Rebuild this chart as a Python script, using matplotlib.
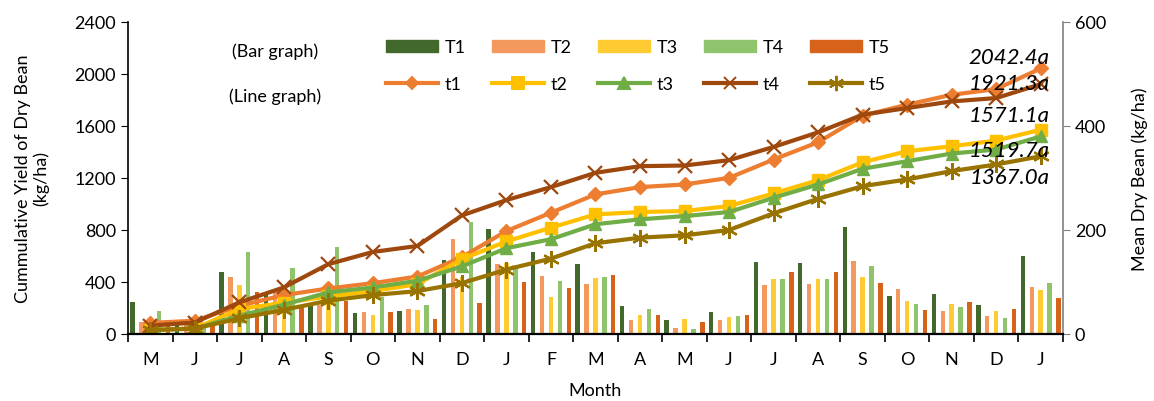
import matplotlib

matplotlib.use("Agg")
import matplotlib.pyplot as plt
from matplotlib.lines import Line2D
from matplotlib.patches import Patch
import numpy as np

plt.rcParams["font.family"] = ["Lato", "DejaVu Sans"]

# ----- Data -----------------------------------------------------------------

months = ["M", "J", "J", "A", "S", "O", "N", "D", "J", "F", "M",
          "A", "M", "J", "J", "A", "S", "O", "N", "D", "J"]

# monthly mean dry bean yield (kg/ha), right axis
T1 = [61, 21, 119, 75, 54, 40, 44, 142, 202, 157, 134, 54, 26, 43, 138, 137, 205, 74, 77, 56, 150]
T2 = [24, 20, 109, 80, 56, 43, 49, 183, 135, 111, 96, 26, 11, 26, 95, 96, 141, 87, 44, 35, 91]
T3 = [20, 18, 95, 60, 59, 37, 47, 110, 136, 72, 107, 37, 29, 32, 105, 105, 110, 64, 58, 44, 84]
T4 = [45, 15, 157, 127, 167, 72, 56, 216, 128, 101, 109, 49, 10, 35, 105, 105, 131, 58, 52, 31, 98]
T5 = [21, 15, 81, 53, 63, 42, 29, 59, 100, 89, 114, 37, 24, 36, 119, 119, 98, 47, 61, 48, 69]

# cumulative yield (kg/ha), left axis
t1 = [85, 102, 217, 299, 350, 391, 442, 592, 792, 933, 1074, 1130, 1150, 1201,
      1342, 1475, 1679, 1764, 1840, 1884, 2042.4]
t2 = [30, 42, 192, 240, 289, 330, 383, 575, 712, 818, 920, 938, 946, 984,
      1081, 1183, 1321, 1406, 1444, 1488, 1571.1]
t3 = [30, 42, 140, 225, 320, 358, 409, 520, 660, 729, 844, 882, 907, 938,
      1048, 1150, 1271, 1329, 1388, 1419, 1519.7]
t4 = [64, 88, 243, 358, 537, 631, 677, 912, 1030, 1130, 1240, 1291, 1296, 1337,
      1439, 1551, 1687, 1738, 1789, 1815, 1921.3]
t5 = [30, 42, 120, 186, 256, 299, 330, 391, 496, 580, 698, 741, 759, 800,
      928, 1040, 1137, 1189, 1253, 1304, 1367.0]

final_labels = ["2042.4a", "1921.3a", "1571.1a", "1519.7a", "1367.0a"]
label_y = [2132, 1932, 1687, 1419, 1204]

# ----- Styles ---------------------------------------------------------------

BAR_COLORS = ["#43682B", "#F4995E", "#FFCB33", "#8FC36C", "#D7621A"]
LINE_COLORS = ["#ED7D31", "#FFC000", "#70AD47", "#9E480E", "#997300"]
MARKERS = ["D", "s", "^", "x", (6, 2, 0)]
MSIZES = [7, 9, 9, 10, 12]
FS = 13


def main() -> None:
    fig = plt.figure(figsize=(11.54, 4.02), dpi=100)
    ax = fig.add_axes([0.1109, 0.1667, 0.8102, 0.7761])
    ax2 = ax.twinx()
    # lines above bars
    ax.set_zorder(2)
    ax.patch.set_visible(False)

    x = np.arange(len(months))
    bars = [T1, T2, T3, T4, T5]
    bar_names = ["T1", "T2", "T3", "T4", "T5"]
    for k, (vals, c) in enumerate(zip(bars, BAR_COLORS)):
        ax2.bar(x + (k - 2) * 0.2, vals, width=0.1, color=c, zorder=2)

    lines = [t1, t2, t3, t4, t5]
    line_names = ["t1", "t2", "t3", "t4", "t5"]
    for vals, c, m, ms in zip(lines, LINE_COLORS, MARKERS, MSIZES):
        ax.plot(x, vals, color=c, lw=3, marker=m, ms=ms,
                mew=1.6 if m in ("x", (6, 2, 0)) else 1, mec=c)

    for txt, yy in zip(final_labels, label_y):
        ax.text(20.2, yy, txt, ha="right", va="center", fontsize=16,
                style="italic", color="black")

    ax.set_xlim(-0.5, len(months) - 0.5)
    ax.set_ylim(0, 2400)
    ax.set_yticks(np.arange(0, 2401, 400))
    ax2.set_ylim(0, 600)
    ax2.set_yticks([0, 200, 400, 600])

    ax.set_xticks(x)
    ax.set_xticklabels(months)
    ax.set_xticks(np.arange(-0.5, len(months), 1.0), minor=True)
    ax.tick_params(axis="x", which="major", length=0, pad=12, labelsize=FS)
    ax.tick_params(axis="x", which="minor", length=6, direction="out", width=1.2)
    ax.tick_params(axis="y", labelsize=FS, length=5, direction="out")
    ax2.tick_params(axis="y", labelsize=FS, length=5, direction="out",
                    color="#808080")

    for a in (ax, ax2):
        a.spines["top"].set_visible(False)
    ax.spines["right"].set_visible(False)
    ax2.spines["left"].set_visible(False)
    ax2.spines["bottom"].set_visible(False)
    ax2.spines["right"].set_color("#808080")
    ax2.spines["right"].set_linewidth(1.2)
    ax.spines["bottom"].set_linewidth(1.6)
    ax.spines["left"].set_linewidth(1.2)

    ax.set_xlabel("Month", fontsize=FS, labelpad=11)
    ax.set_ylabel("Cummulative Yield of Dry Bean\n(kg/ha)", fontsize=FS,
                  labelpad=18, linespacing=1.15)
    ax2.set_ylabel("Mean Dry Bean (kg/ha)", fontsize=FS, labelpad=18)

    handles, labels = [], []
    for k in range(5):
        handles.append(Patch(color=BAR_COLORS[k]))
        labels.append(bar_names[k])
        handles.append(Line2D([], [], color=LINE_COLORS[k], lw=3,
                              marker=MARKERS[k], ms=MSIZES[k] - 1,
                              mew=1.4, mec=LINE_COLORS[k]))
        labels.append(line_names[k])
    fig.legend(handles, labels, ncol=5, loc="upper left",
               bbox_to_anchor=(386 / 1154, 1 - 40 / 402), frameon=False,
               fontsize=FS, handlelength=2.9, handleheight=0.65,
               handletextpad=0.35, columnspacing=1.45, labelspacing=1.15,
               borderpad=0, borderaxespad=0)

    fig.text(275 / 1154, 1 - 52 / 402, "(Bar graph)", ha="center",
             va="center", fontsize=FS)
    fig.text(275 / 1154, 1 - 97 / 402, "(Line graph)", ha="center",
             va="center", fontsize=FS)

    fig.savefig("out.png", dpi=100)
    plt.close(fig)


if __name__ == "__main__":
    main()
